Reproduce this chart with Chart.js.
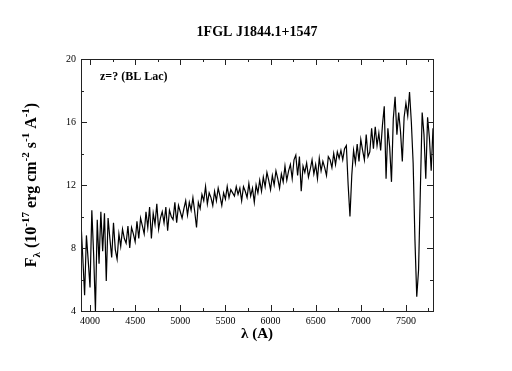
<!DOCTYPE html>
<html>
<head>
<meta charset="utf-8">
<script src="https://cdn.jsdelivr.net/npm/chart.js@4.4.1/dist/chart.umd.min.js"></script>
<style>
  html, body { margin: 0; padding: 0; background: #ffffff; }
  #wrap { width: 512px; height: 371px; }
</style>
</head>
<body>
<div id="wrap"><canvas id="spectrum"></canvas></div>
<script>
// Wavelengths (A) of the spectrum samples
const wavelengths = [
  3900, 3920, 3940, 3960, 3980, 4000, 4020, 4040, 4060, 4080, 4100, 4120, 4140, 4160, 4180, 4200, 4220, 4240, 4260, 4280,
  4300, 4320, 4340, 4360, 4380, 4400, 4420, 4440, 4460, 4480, 4500, 4520, 4540, 4560, 4580, 4600, 4620, 4640, 4660, 4680,
  4700, 4720, 4740, 4760, 4780, 4800, 4820, 4840, 4860, 4880, 4900, 4920, 4940, 4960, 4980, 5000, 5020, 5040, 5060, 5080,
  5100, 5120, 5140, 5160, 5180, 5200, 5220, 5240, 5260, 5280, 5300, 5320, 5340, 5360, 5380, 5400, 5420, 5440, 5460, 5480,
  5500, 5520, 5540, 5560, 5580, 5600, 5620, 5640, 5660, 5680, 5700, 5720, 5740, 5760, 5780, 5800, 5820, 5840, 5860, 5880,
  5900, 5920, 5940, 5960, 5980, 6000, 6020, 6040, 6060, 6080, 6100, 6120, 6140, 6160, 6180, 6200, 6220, 6240, 6260, 6280,
  6300, 6320, 6340, 6360, 6380, 6400, 6420, 6440, 6460, 6480, 6500, 6520, 6540, 6560, 6580, 6600, 6620, 6640, 6660, 6680,
  6700, 6720, 6740, 6760, 6780, 6800, 6820, 6840, 6860, 6880, 6900, 6920, 6940, 6960, 6980, 7000, 7020, 7040, 7060, 7080,
  7100, 7120, 7140, 7160, 7180, 7200, 7220, 7240, 7260, 7280, 7300, 7320, 7340, 7360, 7380, 7400, 7420, 7440, 7460, 7480,
  7500, 7520, 7540, 7560, 7580, 7600, 7620, 7640, 7660, 7680, 7700, 7720, 7740, 7760, 7780, 7800
];

// Flux (10^-17 erg cm^-2 s^-1 A^-1)
const flux = [
  9.6, 7.4, 5.0, 8.8, 7.2, 5.5, 10.4, 7.6, 4.0, 9.8, 7.0, 10.3, 7.8, 10.2, 5.9, 9.9, 8.6, 7.4, 9.6, 7.9,
  7.3, 8.9, 8.1, 9.2, 8.6, 8.3, 9.4, 8.0, 9.3, 8.9, 8.4, 9.7, 8.6, 9.9, 9.4, 8.9, 10.3, 9.3, 10.6, 8.6,
  10.2, 9.5, 10.8, 9.2, 9.9, 10.3, 9.6, 10.6, 9.1, 10.4, 10.0, 9.8, 10.9, 9.6, 10.7, 10.3, 9.9, 10.5, 11.0, 10.1,
  10.9, 10.4, 11.2, 10.3, 9.3, 10.9, 10.5, 11.4, 11.0, 11.9, 10.8, 11.5, 11.2, 10.7, 11.6, 11.0, 11.8, 11.3, 10.7, 11.5,
  11.1, 11.9, 11.2, 11.7, 11.5, 11.3, 11.9, 11.4, 11.8, 11.0, 11.9, 11.6, 11.2, 12.1, 11.3, 11.8, 10.9, 12.0, 11.5, 12.3,
  11.6, 12.5, 11.9, 12.8, 12.3, 11.7, 12.6, 12.0, 12.9, 12.4, 11.8, 12.7, 12.2, 13.2, 12.3, 12.9, 13.3, 12.4, 13.6, 13.9,
  12.6, 13.8, 11.6, 13.2, 12.8, 13.4, 12.5, 13.0, 13.6, 12.7, 13.3, 12.4, 13.7, 12.9, 13.5, 13.1, 12.6, 13.8, 13.6, 13.1,
  14.0, 13.3, 14.1, 13.7, 14.2, 13.6, 14.3, 14.5, 12.0, 10.0, 12.6, 14.2, 13.4, 14.6, 13.5, 14.9, 14.2, 13.6, 15.2, 13.8,
  14.1, 15.6, 14.3, 15.7, 14.5, 15.3, 14.2, 15.8, 17.0, 12.4, 15.6, 14.4, 12.2, 16.2, 17.6, 15.2, 16.6, 15.4, 13.5, 16.3,
  17.2, 16.4, 17.9, 16.0, 13.4, 8.5, 4.9, 6.6, 11.7, 16.6, 15.2, 12.4, 16.3, 15.0, 12.9, 15.6
];

// Axis ticks
const xTicks = [4000, 4500, 5000, 5500, 6000, 6500, 7000, 7500];
const xMinorTicks = [4250, 4750, 5250, 5750, 6250, 6750, 7250, 7750];
const yTicks = [4, 8, 12, 16, 20];
const yMinorTicks = [6, 10, 14, 18];

const serif = '"Liberation Serif", "DejaVu Serif", serif';

// Plugin that draws the frame, inward ticks and all the labels
const framePlugin = {
    id: 'frame',
    afterDraw(chart) {
        const ctx = chart.ctx;
        const area = chart.chartArea;
        const xs = chart.scales.x;
        const ys = chart.scales.y;

        ctx.save();
        ctx.strokeStyle = '#222222';
        ctx.lineWidth = 1;
        ctx.strokeRect(area.left + 0.5, area.top + 0.5, area.right - area.left, area.bottom - area.top);

        ctx.beginPath();
        xTicks.forEach(v => {
            const px = Math.round(xs.getPixelForValue(v)) + 0.5;
            ctx.moveTo(px, area.bottom); ctx.lineTo(px, area.bottom - 6);
            ctx.moveTo(px, area.top); ctx.lineTo(px, area.top + 6);
        });
        xMinorTicks.forEach(v => {
            const px = Math.round(xs.getPixelForValue(v)) + 0.5;
            ctx.moveTo(px, area.bottom); ctx.lineTo(px, area.bottom - 3);
            ctx.moveTo(px, area.top); ctx.lineTo(px, area.top + 3);
        });
        yTicks.forEach(v => {
            const py = Math.round(ys.getPixelForValue(v)) + 0.5;
            ctx.moveTo(area.left, py); ctx.lineTo(area.left + 6, py);
            ctx.moveTo(area.right, py); ctx.lineTo(area.right - 6, py);
        });
        yMinorTicks.forEach(v => {
            const py = Math.round(ys.getPixelForValue(v)) + 0.5;
            ctx.moveTo(area.left, py); ctx.lineTo(area.left + 3, py);
            ctx.moveTo(area.right, py); ctx.lineTo(area.right - 3, py);
        });
        ctx.stroke();

        ctx.fillStyle = '#000000';
        const midX = (area.left + area.right) / 2;

        // Title
        ctx.font = 'bold 14px ' + serif;
        ctx.textAlign = 'center';
        ctx.textBaseline = 'middle';
        ctx.fillText('1FGL J1844.1+1547', midX, 32);

        // Annotation
        ctx.font = 'bold 12px ' + serif;
        ctx.textAlign = 'left';
        ctx.fillText('z=? (BL Lac)', 100, 77);

        // X axis title
        ctx.font = 'bold 15px ' + serif;
        ctx.textAlign = 'center';
        ctx.fillText('\u03bb (A)', midX, 334);

        // Y axis title with sub/superscripts
        const parts = [
            ['F', 0], ['\u03bb', 1], [' (10', 0], ['-17', -1], [' erg cm', 0], ['-2', -1],
            [' s', 0], ['-1', -1], [' A', 0], ['-1', -1], [')', 0]
        ];
        const fontFor = s => (s === 0 ? 'bold 16px ' : 'bold 11px ') + serif;
        let total = 0;
        parts.forEach(p => { ctx.font = fontFor(p[1]); total += ctx.measureText(p[0]).width; });
        ctx.translate(31, (area.top + area.bottom) / 2);
        ctx.rotate(-Math.PI / 2);
        ctx.textAlign = 'left';
        ctx.textBaseline = 'alphabetic';
        let pos = -total / 2;
        parts.forEach(p => {
            ctx.font = fontFor(p[1]);
            const dy = p[1] === 1 ? 4 : (p[1] === -1 ? -7 : 0);
            ctx.fillText(p[0], pos, 5 + dy);
            pos += ctx.measureText(p[0]).width;
        });
        ctx.restore();
    }
};

const points = wavelengths.map((w, i) => ({ x: w, y: flux[i] }));

new Chart(document.getElementById('spectrum'), {
    type: 'line',
    data: {
        datasets: [{
            data: points,
            borderColor: '#000000',
            borderWidth: 1.2,
            pointRadius: 0,
            tension: 0,
            fill: false
        }]
    },
    options: {
        responsive: true,
        maintainAspectRatio: false,
        animation: false,
        devicePixelRatio: 1,
        layout: { padding: { left: 0, top: 59, right: 79, bottom: 0 } },
        plugins: {
            legend: { display: false },
            title: { display: false },
            tooltip: { enabled: false }
        },
        scales: {
            x: {
                type: 'linear',
                min: 3900,
                max: 7800,
                afterBuildTicks: scale => { scale.ticks = xTicks.map(v => ({ value: v })); },
                afterFit: scale => { scale.height = 60; },
                grid: { display: false, drawTicks: false },
                border: { display: false },
                ticks: {
                    color: '#000000',
                    padding: 4,
                    maxRotation: 0,
                    autoSkip: false,
                    font: { family: serif, size: 10 },
                    callback: v => String(v)
                }
            },
            y: {
                type: 'linear',
                min: 4,
                max: 20,
                afterBuildTicks: scale => { scale.ticks = yTicks.map(v => ({ value: v })); },
                afterFit: scale => { scale.width = 81; },
                grid: { display: false, drawTicks: false },
                border: { display: false },
                ticks: {
                    color: '#000000',
                    padding: 5,
                    font: { family: serif, size: 10 },
                    callback: v => String(v)
                }
            }
        }
    },
    plugins: [framePlugin]
});
</script>
</body>
</html>
